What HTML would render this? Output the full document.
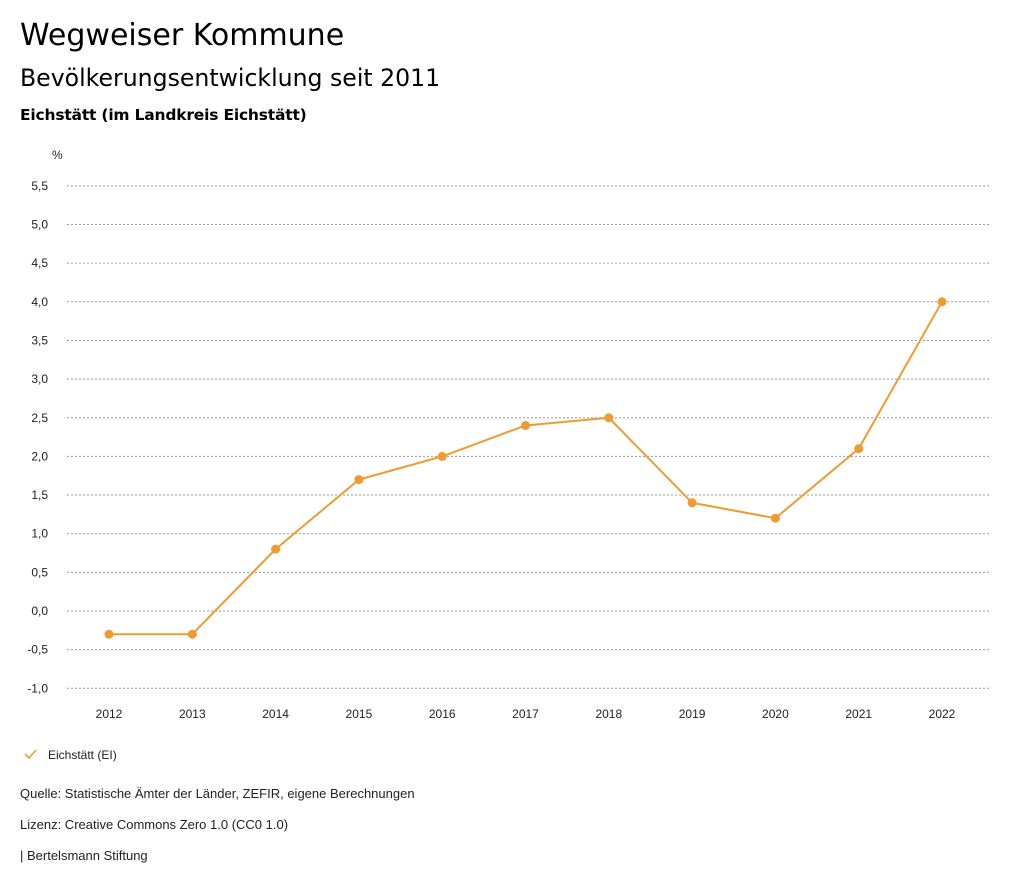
<!DOCTYPE html>
<html><head><meta charset="utf-8"><style>
body{margin:0;width:1024px;height:888px;background:#fff;font-family:"Liberation Sans",sans-serif;color:#000;overflow:hidden}
.t1{position:absolute;left:20px;top:18px;font-size:30px;font-family:"DejaVu Sans",sans-serif}
.t2{position:absolute;left:20px;top:64px;font-size:23.6px;font-family:"DejaVu Sans",sans-serif}
.t3{position:absolute;left:20px;top:106px;font-size:15.5px;font-weight:bold;font-family:"DejaVu Sans",sans-serif;letter-spacing:-0.2px}
.f{position:absolute;left:20px;font-size:13px;color:#222}
svg{position:absolute;left:0;top:0}
</style></head><body>
<div class="t1">Wegweiser Kommune</div>
<div class="t2">Bevölkerungsentwicklung seit 2011</div>
<div class="t3">Eichstätt (im Landkreis Eichstätt)</div>
<svg id="c" width="1024" height="888"></svg>
<div class="f" style="top:786px">Quelle: Statistische Ämter der Länder, ZEFIR, eigene Berechnungen</div>
<div class="f" style="top:817px">Lizenz: Creative Commons Zero 1.0 (CC0 1.0)</div>
<div class="f" style="top:848px">| Bertelsmann Stiftung</div>
<script>
const years=["2012","2013","2014","2015","2016","2017","2018","2019","2020","2021","2022"];
const values=[-0.3,-0.3,0.8,1.7,2.0,2.4,2.5,1.4,1.2,2.1,4.0];
const yTicks=[-1.0,-0.5,0,0.5,1.0,1.5,2.0,2.5,3.0,3.5,4.0,4.5,5.0,5.5];
const svg=document.getElementById('c');const NS='http://www.w3.org/2000/svg';
const col='#ef9b32';
function y(v){return 611-v*77.3;}
function x(i){return 109+i*83.3;}
function mk(t,a,txt){const e=document.createElementNS(NS,t);for(const k in a)e.setAttribute(k,a[k]);if(txt!=null)e.textContent=txt;svg.appendChild(e);return e;}
const u=mk('text',{x:52,y:159,'font-size':12,fill:'#222'},'%');


yTicks.forEach(v=>{
 const g=mk('line',{x1:67,x2:990,y1:y(v),y2:y(v),stroke:'#999','stroke-dasharray':'2,2','stroke-width':1});
 
 
 const l=mk('text',{x:48,y:y(v)+4,'font-size':12,fill:'#222','text-anchor':'end'},v.toFixed(1).replace('.',','));
 
 
});
years.forEach((yr,i)=>{
 const l=mk('text',{x:x(i),y:718,'font-size':12,fill:'#222','text-anchor':'middle'},yr);
 
 
});
const line=mk('polyline',{points:values.map((v,i)=>x(i)+','+y(v)).join(' '),fill:'none',stroke:col,'stroke-width':2});


values.forEach((v,i)=>{
 const p=mk('circle',{cx:x(i),cy:y(v),r:4.5,fill:col});
 
 
});
const lm=mk('polyline',{points:'25,754 29,758 36,750',fill:'none',stroke:col,'stroke-width':1.6});


const lt=mk('text',{x:48,y:759,'font-size':12,fill:'#222'},'Eichstätt (EI)');


</script>
</body></html>
